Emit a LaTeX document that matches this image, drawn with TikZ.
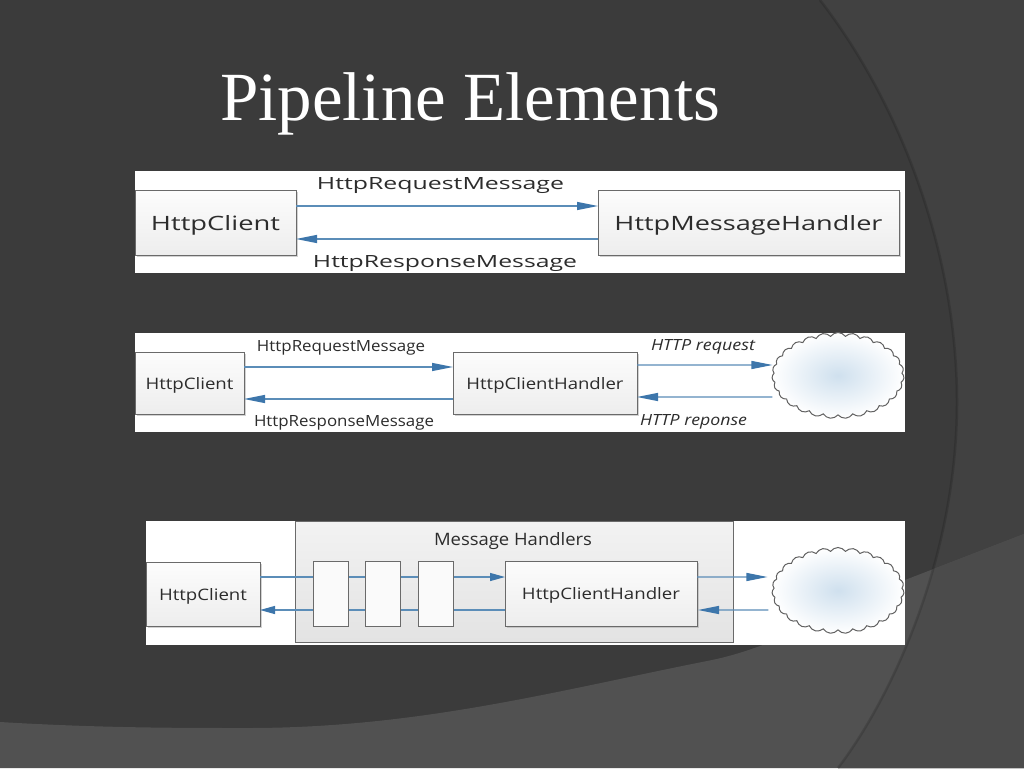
\documentclass[tikz,border=0pt]{standalone}
\usepackage{fontspec}
\usepackage{graphicx}
\setmainfont{Open Sans}
\newfontfamily\titlefont{Liberation Serif}
\usetikzlibrary{arrows.meta,shapes.symbols,shadows}
\definecolor{bgdark}{HTML}{3B3B3B}
\definecolor{bgright}{HTML}{414141}
\definecolor{bandlight}{HTML}{515151}
\definecolor{bandright}{HTML}{4B4B4B}
\definecolor{flowline}{HTML}{5B8DB8}
\definecolor{flowtip}{HTML}{3D76AB}
\definecolor{inktext}{HTML}{2C2C2C}
\definecolor{boxedge}{HTML}{6A6A6A}
\definecolor{cloudcore}{HTML}{CFE0EE}
\newcommand{\fitlabel}[3]{\resizebox{#1pt}{#2pt}{#3}}
\newcommand{\boxlabel}[3]{\raisebox{-\dimexpr #2pt/2\relax}[0pt][0pt]{\resizebox{#1pt}{#2pt}{#3}}}
\tikzset{
  panel/.style={fill=white,draw=none,inner sep=0pt,outer sep=0pt},
  hbox/.style={draw=boxedge,line width=1pt,top color=white!99!black,bottom color=white!93!black,
    inner sep=0pt,outer sep=0pt,text=inktext,
    drop shadow={shadow xshift=2pt,shadow yshift=-2pt,fill=black!35,opacity=.5}},
  slimbox/.style={draw=boxedge,line width=1pt,fill=white!98!black,inner sep=0pt,outer sep=0pt},
  groupbox/.style={draw=boxedge,line width=1pt,top color=white!95!black,bottom color=white!89!black,
    inner sep=0pt,outer sep=0pt,
    drop shadow={shadow xshift=1pt,shadow yshift=-1pt,fill=black!30,opacity=.6}},
  lbl/.style={inner sep=0pt,outer sep=0pt,anchor=base,text=inktext},
  flow/.style={draw=flowline,line width=1.2pt,-{Triangle[length=21pt,width=8pt,color=flowtip]}},
  flowsmall/.style={draw=flowline,line width=1.2pt,-{Triangle[length=15pt,width=8pt,color=flowtip]}},
  netcloud/.style={shape=cloud,cloud puffs=27,cloud puff arc=110,aspect=1.55,draw=black!62,line width=1pt,
    inner color=cloudcore,outer color=white,inner sep=0pt,outer sep=0pt,
    minimum width=132pt,minimum height=86pt}
}
\begin{document}
\begin{tikzpicture}[x=1pt,y=-1pt]
\useasboundingbox (0,0) rectangle (1024,768);
% background
\fill[bgdark] (0,0) rectangle (1024,768);
\fill[bgright] (820,0) .. controls (905,110) and (957,260) .. (957,402)
  .. controls (957,560) and (890,700) .. (838,768) -- (1024,768) -- (1024,0) -- cycle;
\fill[bandlight] (0,722) .. controls (100,728) and (180,728) .. (248,728)
  .. controls (420,728) and (560,690) .. (712,660)
  .. controls (780,646) and (850,603) .. (905,580) -- (1024,534) -- (1024,768) -- (0,768) -- cycle;
\begin{scope}
\clip (820,0) .. controls (905,110) and (957,260) .. (957,402)
  .. controls (957,560) and (890,700) .. (838,768) -- (1024,768) -- (1024,0) -- cycle;
\fill[bandright] (712,660) .. controls (780,646) and (850,603) .. (905,580) -- (1024,534) -- (1024,768) -- (712,768) -- cycle;
\end{scope}
\draw[black,opacity=.14,line width=2.5pt] (820,0) .. controls (905,110) and (957,260) .. (957,402)
  .. controls (957,560) and (890,700) .. (838,768);
% title
\node[inner sep=0pt,outer sep=0pt,anchor=base west,text=white] (title) at (220,120)
  {\resizebox{500pt}{!}{\titlefont\fontsize{60}{60}\selectfont Pipeline Elements}};

% panel 1
\node[panel,minimum width=770pt,minimum height=102pt] (p1) at (520,222) {};
\node[hbox,minimum width=161pt,minimum height=65pt] (c1) at (215.5,222.5) {\boxlabel{129}{15}{HttpClient}};
\node[hbox,minimum width=301pt,minimum height=65pt] (h1) at (748.5,222.5) {\boxlabel{268}{15}{HttpMessageHandler}};
\draw[flow] ([yshift=16.5pt]c1.east) -- ([yshift=16.5pt]h1.west);
\draw[flow] ([yshift=-16.5pt]h1.west) -- ([yshift=-16.5pt]c1.east);
\node[lbl] (l1a) at (440.5,189) {\fitlabel{247}{12}{HttpRequestMessage}};
\node[lbl] (l1b) at (445,267) {\fitlabel{264}{12}{HttpResponseMessage}};

% panel 2
\node[panel,minimum width=770pt,minimum height=99pt] (p2) at (520,382.5) {};
\node[hbox,minimum width=109pt,minimum height=62pt] (c2) at (189.5,383) {\boxlabel{88}{12}{HttpClient}};
\node[hbox,minimum width=184pt,minimum height=62pt] (h2) at (545,383) {\boxlabel{157}{12}{HttpClientHandler}};
\node[netcloud] (n2) at (838,375.5) {};
\draw[flow] ([yshift=16pt]c2.east) -- ([yshift=16pt]h2.west);
\draw[flow] ([yshift=-16pt]h2.west) -- ([yshift=-16pt]c2.east);
\draw[flow] ([yshift=18pt]h2.east) -- ([yshift=10.5pt]n2.west);
\draw[flow] ([yshift=-21.5pt]n2.west) -- ([yshift=-14pt]h2.east);
\node[lbl] (l2a) at (341,351) {\fitlabel{168}{11}{HttpRequestMessage}};
\node[lbl] (l2b) at (344,426) {\fitlabel{180}{11}{HttpResponseMessage}};
\node[lbl] (l2c) at (703,350) {\fitlabel{104}{11}{\itshape HTTP request}};
\node[lbl] (l2d) at (693.5,425) {\fitlabel{107}{11}{\itshape HTTP reponse}};

% panel 3
\node[panel,minimum width=759pt,minimum height=124pt] (p3) at (525.5,583) {};
\node[groupbox,minimum width=438pt,minimum height=121pt] (g3) at (514,581.5) {};
\node[lbl] (l3a) at (513,545) {\fitlabel{158}{13}{Message Handlers}};
\node[hbox,minimum width=114pt,minimum height=64pt] (c3) at (203,594) {\boxlabel{88}{12}{HttpClient}};
\node[hbox,minimum width=192pt,minimum height=65pt] (h3) at (601,593.5) {\boxlabel{158}{12}{HttpClientHandler}};
\node[netcloud] (n3) at (838,590.5) {};
\draw[flowsmall] ([yshift=17pt]c3.east) -- ([yshift=16.5pt]h3.west);
\draw[flowsmall] ([yshift=-16.5pt]h3.west) -- ([yshift=-16pt]c3.east);
\node[slimbox,minimum width=35pt,minimum height=65pt] (s1) at (330.5,593.5) {};
\node[slimbox,minimum width=35pt,minimum height=65pt] (s2) at (382.5,593.5) {};
\node[slimbox,minimum width=35pt,minimum height=65pt] (s3) at (435.5,593.5) {};
\draw[flow] ([yshift=16.5pt]h3.east) -- ([xshift=-5pt,yshift=13.5pt]n3.west);
\draw[flow] ([xshift=-4pt,yshift=-19.5pt]n3.west) -- ([xshift=1pt,yshift=-16.5pt]h3.east);
\end{tikzpicture}
\end{document}
